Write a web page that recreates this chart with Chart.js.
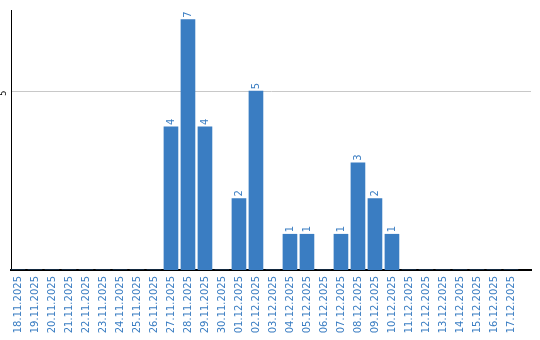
<!DOCTYPE html>
<html>
<head>
<meta charset="utf-8">
<script src="https://cdn.jsdelivr.net/npm/chart.js@4"></script>
<style>
  html, body { margin: 0; padding: 0; background: #fff; }
  #wrap { width: 540px; height: 340px; }
</style>
</head>
<body>
<div id="wrap"><canvas id="myChart"></canvas></div>
<script>
  // dates on the x axis
  var dates = [
    "18.11.2025", "19.11.2025", "20.11.2025", "21.11.2025", "22.11.2025",
    "23.11.2025", "24.11.2025", "25.11.2025", "26.11.2025", "27.11.2025",
    "28.11.2025", "29.11.2025", "30.11.2025", "01.12.2025", "02.12.2025",
    "03.12.2025", "04.12.2025", "05.12.2025", "06.12.2025", "07.12.2025",
    "08.12.2025", "09.12.2025", "10.12.2025", "11.12.2025", "12.12.2025",
    "13.12.2025", "14.12.2025", "15.12.2025", "16.12.2025", "17.12.2025"
  ];
  // count per day
  var counts = [
    0, 0, 0, 0, 0, 0, 0, 0, 0, 4,
    7, 4, 0, 2, 5, 0, 1, 1, 0, 1,
    3, 2, 1, 0, 0, 0, 0, 0, 0, 0
  ];
  var yTicks = [5];

  var blue = "#3a7dc2";

  // numbers above the bars, written upwards
  var barLabels = {
    id: "barLabels",
    afterDatasetsDraw: function(chart) {
      var ctx = chart.ctx;
      var meta = chart.getDatasetMeta(0);
      ctx.save();
      ctx.fillStyle = blue;
      ctx.font = "10px 'DejaVu Sans'";
      ctx.textAlign = "left";
      ctx.textBaseline = "middle";
      meta.data.forEach(function(bar, i) {
        if (!counts[i]) return;
        ctx.save();
        ctx.translate(bar.x, bar.y - 2);
        ctx.rotate(-Math.PI / 2);
        ctx.fillText(String(counts[i]), 0, 0);
        ctx.restore();
      });
      ctx.restore();
    },
    afterDraw: function(chart) {
      // rotated y tick label
      var ctx = chart.ctx;
      var y = chart.scales.y;
      ctx.save();
      ctx.fillStyle = "#000";
      ctx.font = "8px 'DejaVu Sans'";
      ctx.textAlign = "center";
      ctx.textBaseline = "middle";
      yTicks.forEach(function(t) {
        ctx.save();
        ctx.translate(4, y.getPixelForValue(t) + 2);
        ctx.rotate(-Math.PI / 2);
        ctx.fillText(String(t), 0, 0);
        ctx.restore();
      });
      ctx.restore();
    }
  };

  new Chart("myChart", {
    type: "bar",
    data: {
      datasets: [{
        data: counts.map(function(v, i) { return { x: i, y: v }; }),
        backgroundColor: blue,
        borderWidth: 0,
        barThickness: 14
      }]
    },
    options: {
      responsive: true,
      maintainAspectRatio: false,
      animation: false,
      layout: { padding: { top: 10, right: 9, left: 0, bottom: 0 } },
      plugins: {
        legend: { display: false },
        tooltip: { enabled: false }
      },
      scales: {
        x: {
          type: "linear",
          offset: false,
          min: -0.41,
          max: 30.18,
          afterBuildTicks: function(scale) {
            scale.ticks = dates.map(function(d, i) { return { value: i }; });
          },
          afterFit: function(scale) { scale.height = 70; },
          grid: { display: false, drawTicks: false, offset: false },
          border: { display: true, color: "#000", width: 2 },
          ticks: {
            autoSkip: false,
            minRotation: 90,
            maxRotation: 90,
            padding: 6,
            color: blue,
            font: { family: "DejaVu Sans", size: 10 },
            callback: function(v) { return dates[v]; }
          }
        },
        y: {
          min: 0,
          max: 7.27,
          afterBuildTicks: function(scale) {
            scale.ticks = yTicks.map(function(v) { return { value: v }; });
          },
          afterFit: function(scale) { scale.width = 11; },
          grid: { color: "#c8c8c8", lineWidth: 1, drawTicks: false },
          border: { display: true, color: "#000", width: 1 },
          ticks: { display: false }
        }
      }
    },
    plugins: [barLabels]
  });
</script>
</body>
</html>
